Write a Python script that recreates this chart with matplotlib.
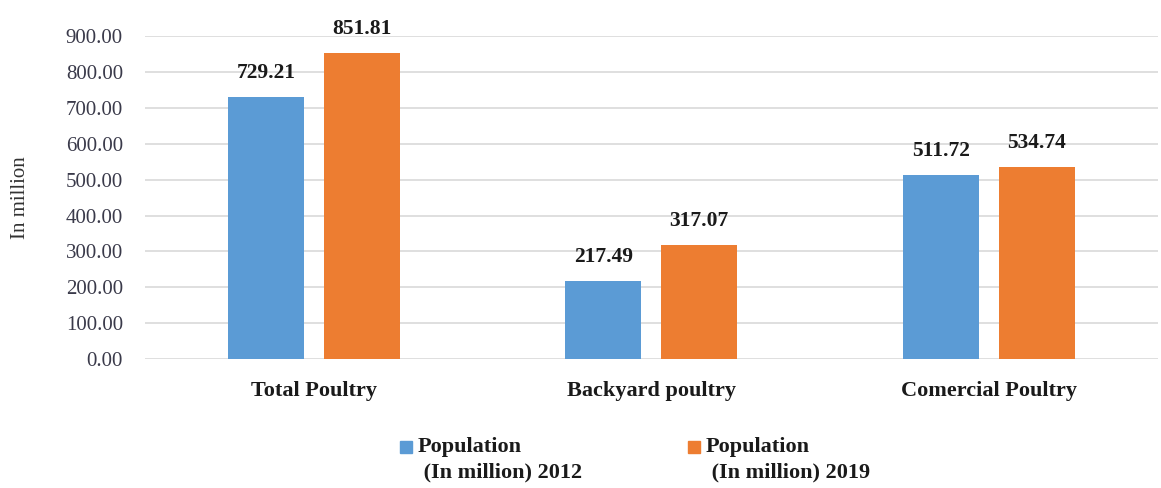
import numpy as np
import matplotlib.pyplot as plt
from matplotlib.patches import Rectangle

categories = ['Total Poultry', 'Backyard poultry', 'Comercial Poultry']
pop_2012 = [729.21, 217.49, 511.72]
pop_2019 = [851.81, 317.07, 534.74]
series_names = ['Population\n (In million) 2012', 'Population\n (In million) 2019']
colors = ['#5b9bd5', '#ed7d31']

plt.rcParams['font.family'] = ['Liberation Serif', 'DejaVu Serif']

W, H = 1161, 488
fig = plt.figure(figsize=(W / 100, H / 100), dpi=100)
ax = fig.add_axes([0.125, 0.2643, 0.872, 0.6617])

x = np.arange(len(categories))
w = 0.225
off = 0.142
b1 = ax.bar(x - off, pop_2012, w, color=colors[0], zorder=3)
b2 = ax.bar(x + off, pop_2019, w, color=colors[1], zorder=3)

for bars, vals in ((b1, pop_2012), (b2, pop_2019)):
    for rect, v in zip(bars, vals):
        ax.text(rect.get_x() + rect.get_width() / 2, v + 40, f'{v:.2f}',
                ha='center', va='bottom', fontsize=15.5, fontweight='bold', color='#1a1a1a')

ax.set_xlim(-0.5, 2.5)
ax.set_ylim(0, 900)
ax.set_yticks(np.arange(0, 901, 100))
ax.set_yticklabels([f'{t:.2f}' for t in np.arange(0, 901, 100)], fontsize=15, color='#3a3a4a')
ax.set_xticks(x)
ax.set_xticklabels(categories, fontsize=16, fontweight='bold', color='#1a1a1a')
ax.tick_params(axis='both', length=0)
ax.tick_params(axis='y', pad=16)
ax.tick_params(axis='x', pad=16)
ax.grid(axis='y', color='#d9d9d9', linewidth=1.2, zorder=0)
for s in ax.spines.values():
    s.set_visible(False)

ax.set_ylabel('In million', fontsize=15, color='#333333', labelpad=26)

# legend drawn by hand: square swatch level with the first text line
for i, (name, c) in enumerate(zip(series_names, colors)):
    x0 = 400 + i * 288
    fig.patches.append(Rectangle((x0 / W, 1 - 453 / H), 12 / W, 12 / H,
                                 transform=fig.transFigure, color=c))
    fig.text((x0 + 18) / W, 1 - 437 / H, name, ha='left', va='top', fontsize=16,
             fontweight='bold', color='#1a1a1a', linespacing=1.38)

fig.savefig('out.png', dpi=100)
